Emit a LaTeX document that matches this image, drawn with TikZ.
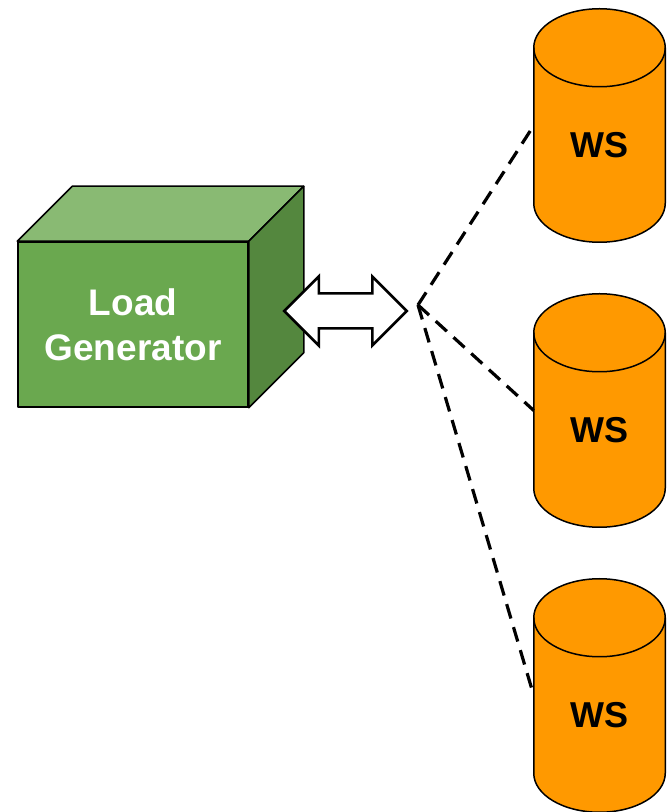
\documentclass[tikz,border=0pt]{standalone}
\usepackage{fontspec}
\setmainfont{Liberation Sans}
\usetikzlibrary{
  arrows.meta,
  calc,
  positioning,
  shapes,
}
\definecolor{lgfront}{RGB}{106,168,79}
\definecolor{lgtop}{RGB}{137,186,115}
\definecolor{lgside}{RGB}{84,135,62}
\definecolor{wsfill}{RGB}{255,153,0}
\tikzset{
  x = 1pt,
  y = 1pt,
  ws/.style={
    minimum width=131.5pt, minimum height=233.5pt,
    inner sep=0pt, outer sep=0pt,
  },
  wstext/.style={font=\bfseries\fontsize{36}{40}\selectfont, yshift=-20pt},
  face/.style={draw, line width=1.5pt, line join=round},
}

\begin{document}
\begin{tikzpicture}[
  node distance=51.5pt,
  link/.style={line width=3.2pt, dash pattern=on 15pt off 9pt},
  drum/.style={draw, line width=1.5pt, fill=wsfill},]
  \useasboundingbox (0,0) rectangle (669,812);
  %%
  \node[face, fill=lgfront, minimum width=230pt, minimum height=165pt,
  text=white, align=center, font=\bfseries\fontsize{37}{45}\selectfont]
  (LoadGen) at (133,487.5) {Load\\Generator};
  \draw[face, fill=lgtop] (LoadGen.north west) -- ++(55,55)
  -- ($(LoadGen.north east)+(55,55)$) -- (LoadGen.north east) -- cycle;
  \draw[face, fill=lgside] (LoadGen.north east) -- ++(55,55)
  -- ($(LoadGen.south east)+(55,55)$) -- (LoadGen.south east) -- cycle;
  %%
  \node[draw, line width=2.5pt, fill=white, double arrow,
  double arrow head extend=17pt, minimum height=122.5pt,
  inner xsep=0pt, inner ysep=16.25pt]
  (Link) at (345.5,501) {};
  %%
  \node[ws] (WS1) at (599.5,686.5) {};
  \node[ws, below=of WS1] (WS2) {};
  \node[ws, below=of WS2] (WS3) {};
  \foreach \w in {WS1,WS2,WS3}{
    \draw[drum] ($(\w.north west)+(0,-39)$) -- ($(\w.south west)+(0,39)$)
    arc[start angle=180, end angle=360, x radius=65.75, y radius=39]
    -- ($(\w.north east)+(0,-39)$)
    arc[start angle=0, end angle=180, x radius=65.75, y radius=39]
    -- cycle;
    \draw[drum, fill=none] ($(\w.north west)+(0,-39)$)
    arc[start angle=180, end angle=360, x radius=65.75, y radius=39];
    \node[wstext] at (\w.center) {WS};
  }
  %%
  \coordinate (Hub) at (418,507);
  \draw[link] (Hub) -- (WS1.west);
  \draw[link] (Hub) -- (WS2.west);
  \draw[link] (Hub) -- (WS3.west);
\end{tikzpicture}
\end{document}
